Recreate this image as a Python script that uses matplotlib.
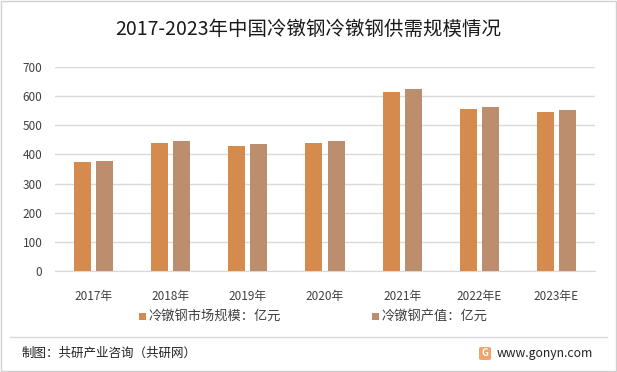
import matplotlib
matplotlib.use("Agg")
import matplotlib.pyplot as plt
from matplotlib.patches import Rectangle, FancyBboxPatch
import numpy as np

plt.rcParams['font.family'] = ['Noto Sans CJK SC', 'DejaVu Sans']

categories = ["2017年", "2018年", "2019年", "2020年", "2021年", "2022年E", "2023年E"]
market_size = [375, 439, 429, 439, 614, 556, 546]
output_value = [379, 447, 436, 446, 624, 563, 552]
series_names = ["冷镦钢市场规模：亿元", "冷镦钢产值：亿元"]
yticks = [0, 100, 200, 300, 400, 500, 600, 700]

c1 = "#D58B4E"
c2 = "#BC8E6D"

W, H = 617, 372
fig = plt.figure(figsize=(W / 100, H / 100), dpi=100)
ax = fig.add_axes([55 / W, 1 - 271 / H, 540 / W, 204 / H])

x = np.arange(len(categories))
bw = 0.22
off = 0.143
ax.bar(x - off, market_size, bw, color=c1, zorder=3, label=series_names[0])
ax.bar(x + off, output_value, bw, color=c2, zorder=3, label=series_names[1])

ax.set_xlim(-0.5, len(categories) - 0.5)
ax.set_ylim(0, 700)
ax.set_yticks(yticks)
ax.yaxis.grid(True, color="#D9D9D9", linewidth=1, zorder=0)
for s in ["top", "right", "left"]:
    ax.spines[s].set_visible(False)
ax.spines["bottom"].set_color("#D9D9D9")
ax.tick_params(axis="both", length=0, labelsize=8.5, colors="#404040")
ax.tick_params(axis="y", pad=9)
ax.tick_params(axis="x", pad=14)
ax.set_xticks(x)
ax.set_xticklabels(categories)

fig.text(308 / W, 1 - 29 / H, "2017-2023年中国冷镦钢冷镦钢供需规模情况", ha="center", va="center",
         fontsize=14, color="#1a1a1a")

# legend (manual placement)
ly = 1 - 316 / H
for xm, col, name in [(142, c1, series_names[0]), (375, c2, series_names[1])]:
    fig.add_artist(Rectangle(((xm - 3.5) / W, ly - 3.5 / H), 7 / W, 7 / H, transform=fig.transFigure,
                             color=col, lw=0))
    fig.text((xm + 7) / W, ly, name, ha="left", va="center", fontsize=9.5, color="#404040")

# footer
fig.add_artist(plt.Line2D([10 / W, 607 / W], [1 - 337 / H, 1 - 337 / H], color="#D9D9D9", lw=1))
fig.text(22 / W, 1 - 353 / H, "制图：共研产业咨询（共研网）", ha="left", va="center", fontsize=9, color="#222222")
fig.text(497 / W, 1 - 353 / H, "www.gonyn.com", ha="left", va="center", fontsize=8.8, color="#222222")
fig.add_artist(FancyBboxPatch((479 / W, 1 - 360 / H), 12 / W, 13 / H, boxstyle="round,pad=0,rounding_size=0.004",
                              transform=fig.transFigure, color="#F2A46B", lw=0))
fig.text(485 / W, 1 - 353.5 / H, "G", ha="center", va="center", fontsize=7, color="white", fontweight="bold")

# border
fig.add_artist(Rectangle((1 / W, 1 / H), (W - 2) / W, (H - 2) / H, transform=fig.transFigure,
                         fill=False, edgecolor="#D0D0D0", lw=1))

fig.savefig("out.png", dpi=100, facecolor="white")
